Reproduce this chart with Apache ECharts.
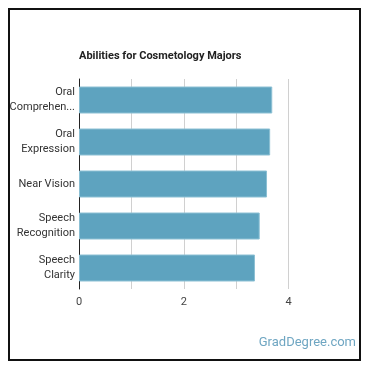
<!DOCTYPE html>
<html><head><meta charset="utf-8">
<script src="https://cdn.jsdelivr.net/npm/echarts@6/dist/echarts.min.js"></script>
<style>
html,body{margin:0;padding:0;background:#fff;}
#frame{position:absolute;left:8px;top:8px;width:349px;height:349px;border:2px solid #111;box-sizing:content-box;}
#c{position:absolute;left:0;top:0;width:370px;height:370px;}
</style>
</head><body>
<div id="frame"></div>
<div id="c"></div>
<script>
const categories = ["Oral\nComprehen...", "Oral\nExpression", "Near Vision", "Speech\nRecognition", "Speech\nClarity"];
const values = [3.69, 3.65, 3.59, 3.45, 3.36];
const xTicks = [0, 2, 4];

const chart = echarts.init(document.getElementById('c'), null, {renderer: 'canvas'});
chart.setOption({
  animation: false,
  textStyle: {fontFamily: 'Roboto'},
  title: {
    text: 'Abilities for Cosmetology Majors',
    left: 74, top: 46,
    textStyle: {fontSize: 11, fontWeight: 'bold', color: '#222', fontFamily: 'Roboto'}
  },
  graphic: [{
    type: 'text', right: 14, top: 336,
    style: {text: 'GradDegree.com', fill: '#6fa6c2', font: '13px Roboto'}
  }],
  grid: {left: 79, top: 79, width: 209.5, height: 210, containLabel: false},
  xAxis: {
    type: 'value', min: 0, max: 4, interval: 1,
    axisLine: {show: false}, axisTick: {show: false},
    splitLine: {lineStyle: {color: '#d0d0d0', width: 1}},
    axisLabel: {
      color: '#444', fontSize: 11, margin: 8,
      formatter: v => xTicks.indexOf(v) >= 0 ? String(v) : ''
    }
  },
  yAxis: {
    type: 'category', data: categories, inverse: true,
    axisLine: {show: true, lineStyle: {color: '#222', width: 1}},
    axisTick: {show: false},
    axisLabel: {color: '#333', fontSize: 11, margin: 4, lineHeight: 15, align: 'right'}
  },
  series: [{
    type: 'bar', data: values, barWidth: 27,
    itemStyle: {color: '#5ea3bf', borderColor: '#8cc0d4', borderWidth: 1}
  }]
});
</script>
</body></html>
